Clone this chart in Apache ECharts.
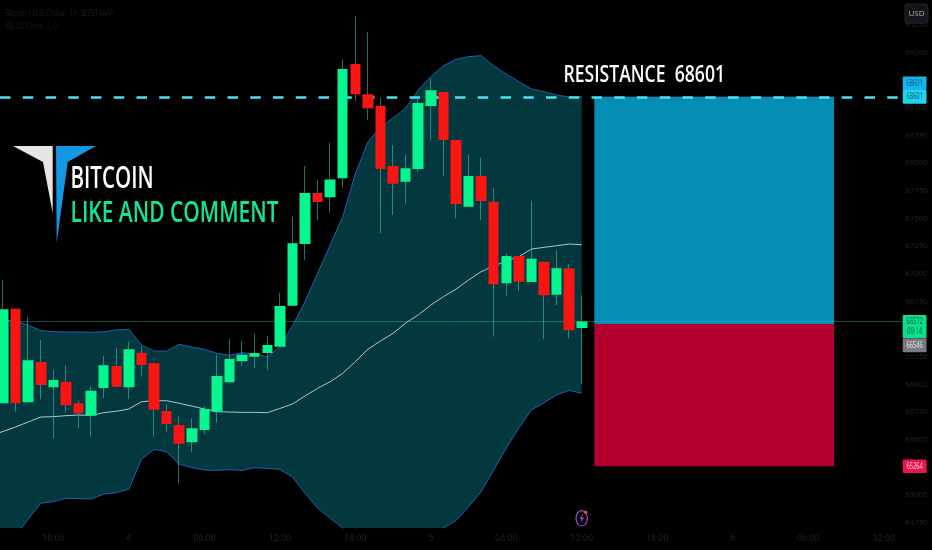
<!DOCTYPE html>
<html>
<head>
<meta charset="utf-8">
<style>html,body{margin:0;padding:0;background:#000}#chart{width:932px;height:550px}</style>
<script src="https://cdn.jsdelivr.net/npm/echarts@6/dist/echarts.min.js"></script>
</head>
<body>
<div id="chart"></div>
<script>
// hourly time axis (day number at midnight)
const categories = ['13:00',
 '14:00','15:00','16:00','17:00','18:00','19:00','20:00','21:00','22:00','23:00','4','01:00','02:00','03:00','04:00','05:00','06:00','07:00','08:00','09:00','10:00','11:00','12:00','13:00',
 '14:00','15:00','16:00','17:00','18:00','19:00','20:00','21:00','22:00','23:00','5','01:00','02:00','03:00','04:00','05:00','06:00','07:00','08:00','09:00','10:00','11:00','12:00','13:00',
 '14:00','15:00','16:00','17:00','18:00','19:00','20:00','21:00','22:00','23:00','6','01:00','02:00','03:00','04:00','05:00','06:00','07:00','08:00','09:00','10:00','11:00','12:00','13:00'];
// open, close, low, high
const ohlc = [[65800,65900,65700,66000],
 [65832,66681,65832,66946],[66687,65832,65756,66687],[65841,66220,65841,66609],[66205,65997,65868,66404],
 [65976,66042,65515,66133],[66027,65814,65750,66175],[65832,65741,65606,65855],[65720,65946,65530,65982],
 [65970,66175,65877,66259],[66169,65982,65976,66329],[65976,66320,65871,66388],[66289,66178,66072,66343],
 [66193,65774,65530,66200],[65762,65645,65575,65825],[65636,65467,65109,65717],[65479,65606,65394,65696],
 [65590,65780,65554,65807],[65756,66078,65656,66268],[66021,66232,66021,66410],[66211,66271,66169,66397],
 [66253,66286,66151,66458],[66286,66359,66133,66434],[66343,66711,66343,66831],[66714,67277,66714,67518],
 [67271,67732,67127,67976],[67732,67651,67488,67850],[67693,67854,67554,68187],[67865,68852,67777,68940],
 [68898,68624,68563,69331],[68624,68497,68392,69184],[68521,67949,67368,68593],[67976,67816,67533,68166],
 [67834,67955,67639,68075],[67949,68545,67924,68609],[68518,68660,68205,68768],[68645,68211,67886,68645],
 [68211,67630,67503,68211],[67608,67886,67608,68075],[67886,67660,67488,68051],[67653,66907,66434,67775],
 [66916,67163,66801,67187],[67163,66931,66846,67163],[66928,67138,66928,67662],[67111,66808,66410,67111],
 [66813,67052,66720,67217],[67052,66491,66419,67088],[66512,66572,66006,66808]];
const bbUpper = [66590,66584,66575,66539,66488,66479,66476,66476,66473,66479,66494,66500,66359,66304,66304,66365,66340,66320,66284,66265,66289,66277,66253,66340,66530,66751,67006,67262,67518,67904,68193,68328,68410,68500,68663,68783,68882,68940,68964,68973,68880,68807,68738,68672,68647,68618,68599,68602];
const bbMiddle = [65540,65577,65618,65663,65708,65711,65720,65726,65723,65747,65760,65780,65846,65855,65855,65832,65807,65780,65756,65753,65750,65750,65747,65785,65825,65898,65967,66027,66103,66208,66320,66395,66464,66557,66630,66720,66795,66862,66946,67021,67072,67118,67156,67226,67241,67256,67271,67265];
const bbLower = [64400,64506,64633,64786,64928,64943,64973,64970,64967,65012,65024,65057,65326,65416,65394,65283,65250,65229,65226,65232,65226,65250,65244,65235,65166,65021,64886,64795,64705,64597,64488,64416,64371,64416,64488,64597,64705,64771,64897,65033,65229,65428,65609,65771,65837,65907,65949,65922];
const bbWidth = bbUpper.map((v, i) => v - bbLower[i]);
const priceTicks = [64750,65000,65250,65500,65750,66000,66250,66500,66750,67000,67250,67500,67750,68000,68250,68500,68750,69000,69250];
const resistance = 68601;
const lastPrice = 66572;
const stopPrice = 65264;
const tagPrices = [68601, 68601, 66572, 66546, 65264];
const tagLabels = ['68601', '68601', '66572\n09:14', '66546', '65264'];
const titleLines = ['Bitcoin / U.S. Dollar, 1h, BITSTAMP', 'BB 20, Close, 2, 0'];

const FACE = '"Open Sans","Liberation Sans",sans-serif';
const faint = '#202020';
const tagStyle = [
  {off: -13.5, h: 13.5, bg: '#16b4ec', fg: '#07586e'},
  {off: 0, h: 13.8, bg: '#20d4ec', fg: '#07586e'},
  {off: 5, h: 23, bg: '#0adf8c', fg: '#06603f'},
  {off: 21, h: 14, bg: '#787b83', fg: '#e8e8e8'},
  {off: 0, h: 13.5, bg: '#f0124e', fg: '#ffe0e6'}
];
const measure = document.createElement('canvas').getContext('2d');
function fit(text, font, width) { measure.font = font; return width / measure.measureText(text).width; }

const chart = echarts.init(document.getElementById('chart'), null, {renderer: 'canvas'});
const boxFrom = 48, boxTo = 67;
function lineSeries(data, color, z) {
  return {type: 'line', data, symbol: 'none', silent: true, z, lineStyle: {color, width: 1}};
}
const F = {big: '600 30px ' + FACE, mid: '600 29px ' + FACE, res: '600 23px ' + FACE,
           t1: '9.5px ' + FACE, t2: '9px ' + FACE, tag: '8.5px ' + FACE};
const resText = 'RESISTANCE  ' + resistance;
chart.setOption({
  animation: false,
  backgroundColor: '#000000',
  grid: {left: -15.79, top: 0, width: 918.34, height: 528, containLabel: false, outerBoundsMode: 'none'},
  tooltip: {show: false},
  xAxis: {
    type: 'category', data: categories, boundaryGap: true,
    axisLine: {show: false}, axisTick: {show: false}, splitLine: {show: false},
    axisLabel: {
      color: faint, fontSize: 9, margin: 6, fontFamily: 'Roboto,sans-serif',
      interval: (i, v) => v.length === 1 || /^(06|12|18):00$/.test(v)
    }
  },
  yAxis: {
    type: 'value', position: 'right', min: 64705, max: 69476, scale: true,
    axisLine: {show: false}, axisTick: {show: false}, splitLine: {show: false},
    axisLabel: {color: faint, fontSize: 8, margin: 14, align: 'center', fontFamily: 'Roboto,sans-serif',
      customValues: priceTicks, formatter: v => String(v)}
  },
  series: [
    {type: 'line', data: bbLower, stack: 'bb', symbol: 'none', silent: true, z: 1, lineStyle: {opacity: 0, width: 0}},
    {type: 'line', data: bbWidth, stack: 'bb', symbol: 'none', silent: true, z: 1, lineStyle: {opacity: 0, width: 0},
     areaStyle: {color: '#03383e', opacity: 1}},
    lineSeries(bbUpper, '#1f5fb4', 1.5),
    lineSeries(bbLower, '#1f5fb4', 1.5),
    lineSeries(bbMiddle, '#a4cccc', 1.5),
    {type: 'line', data: [], z: 2, silent: true, symbol: 'none',
     markLine: {silent: true, symbol: 'none', label: {show: false}, animation: false,
       lineStyle: {color: 'rgba(60,200,160,0.38)', width: 1, type: 'solid'},
       data: [{yAxis: lastPrice}]}},
    {type: 'custom', z: 3, silent: true, clip: false,
     data: [[boxFrom, boxTo, resistance, lastPrice - 23, 0], [boxFrom, boxTo, lastPrice - 23, stopPrice, 1]],
     renderItem(params, api) {
       const a = api.coord([api.value(0), api.value(2)]);
       const b = api.coord([api.value(1), api.value(3)]);
       return {type: 'rect', shape: {x: a[0], y: a[1], width: b[0] - a[0] + 0.7, height: b[1] - a[1]},
               style: {fill: api.value(4) ? '#b3002e' : '#058db3'}};
     }},
    {type: 'line', data: [], z: 4, silent: true, symbol: 'none',
     markLine: {silent: true, symbol: 'none', label: {show: false}, animation: false,
       lineStyle: {color: '#4fdff0', width: 2.5, type: [10.5, 12.25], dashOffset: 6.96},
       data: [{yAxis: resistance}]}},
    {type: 'candlestick', data: ohlc, z: 5, silent: true, barWidth: 1,
     itemStyle: {color: 'transparent', color0: 'transparent',
       borderColor: 'rgba(62,205,190,0.55)', borderColor0: 'rgba(62,205,190,0.55)', borderWidth: 1}},
    {type: 'candlestick', data: ohlc, z: 6, silent: true, barWidth: 11,
     itemStyle: {color: '#06f58f', color0: '#f81512', borderColor: 'transparent', borderColor0: 'transparent', borderWidth: 0}},
    {type: 'custom', z: 10, silent: true, clip: false,
     data: tagPrices.map((p, i) => [i, p]),
     renderItem(params, api) {
       const i = params.dataIndex, s = tagStyle[i];
       const cy = api.coord([0, api.value(1)])[1] + s.off;
       const x = params.coordSys.x + params.coordSys.width + 0.2;
       return {type: 'group', children: [
         {type: 'rect', shape: {x, y: cy - s.h / 2, width: 23.8, height: s.h, r: 1}, style: {fill: s.bg}},
         {type: 'text', x: x + 11.9, y: cy, scaleX: fit('68601', F.tag, 16.5),
          style: {text: tagLabels[i], fill: s.fg, font: F.tag, align: 'center', verticalAlign: 'middle', lineHeight: 10}}
       ]};
     }}
  ],
  graphic: [
    {type: 'polygon', silent: true, shape: {points: [[13,146],[52.7,146],[52.7,213],[43,162]]}, style: {fill: '#e6e6e6'}, z: 20},
    {type: 'polygon', silent: true, shape: {points: [[56,146],[96,146],[67.7,162],[56.7,243]]}, style: {fill: '#1597e5'}, z: 20},
    {type: 'text', silent: true, x: 70.5, y: 179, scaleX: fit('BITCOIN', F.big, 83), style: {text: 'BITCOIN', fill: '#ffffff', font: F.big, verticalAlign: 'middle'}, z: 20},
    {type: 'text', silent: true, x: 70.5, y: 213.5, scaleX: fit('LIKE AND COMMENT', F.mid, 208), style: {text: 'LIKE AND COMMENT', fill: '#12e68f', font: F.mid, verticalAlign: 'middle'}, z: 20},
    {type: 'text', silent: true, x: 563.5, y: 75.5, scaleX: fit(resText, F.res, 161.5), style: {text: resText, fill: '#ffffff', font: F.res, verticalAlign: 'middle'}, z: 20},
    {type: 'text', silent: true, x: 5, y: 13, scaleX: fit(titleLines[0], F.t1, 108), style: {text: titleLines[0], fill: '#1c1c1c', font: F.t1, verticalAlign: 'middle'}, z: 20},
    {type: 'text', silent: true, x: 5, y: 26, scaleX: fit(titleLines[1], F.t2, 52), style: {text: titleLines[1], fill: '#181818', font: F.t2, verticalAlign: 'middle'}, z: 20},
    {type: 'rect', silent: true, shape: {x: 905, y: 4, width: 23, height: 19, r: 3}, style: {fill: '#14161b', stroke: '#24262c', lineWidth: 1}, z: 20},
    {type: 'text', silent: true, x: 916.5, y: 13.5, style: {text: 'USD', fill: '#a8abb2', font: '8px ' + FACE, align: 'center', verticalAlign: 'middle'}, z: 21},
    {type: 'ellipse', silent: true, shape: {cx: 581.7, cy: 518.3, rx: 5.7, ry: 7.7}, style: {fill: 'transparent', stroke: '#9a4fd0', lineWidth: 1.2}, z: 20},
    {type: 'polygon', silent: true, shape: {points: [[583,513.5],[579.5,519],[581.5,519],[580.5,523],[584,517.5],[582,517.5]]}, style: {fill: '#9a4fd0'}, z: 20},
    {type: 'circle', silent: true, shape: {cx: 585.7, cy: 512.3, r: 1.8}, style: {fill: '#f0433a'}, z: 21}
  ]
});
</script>
</body>
</html>
